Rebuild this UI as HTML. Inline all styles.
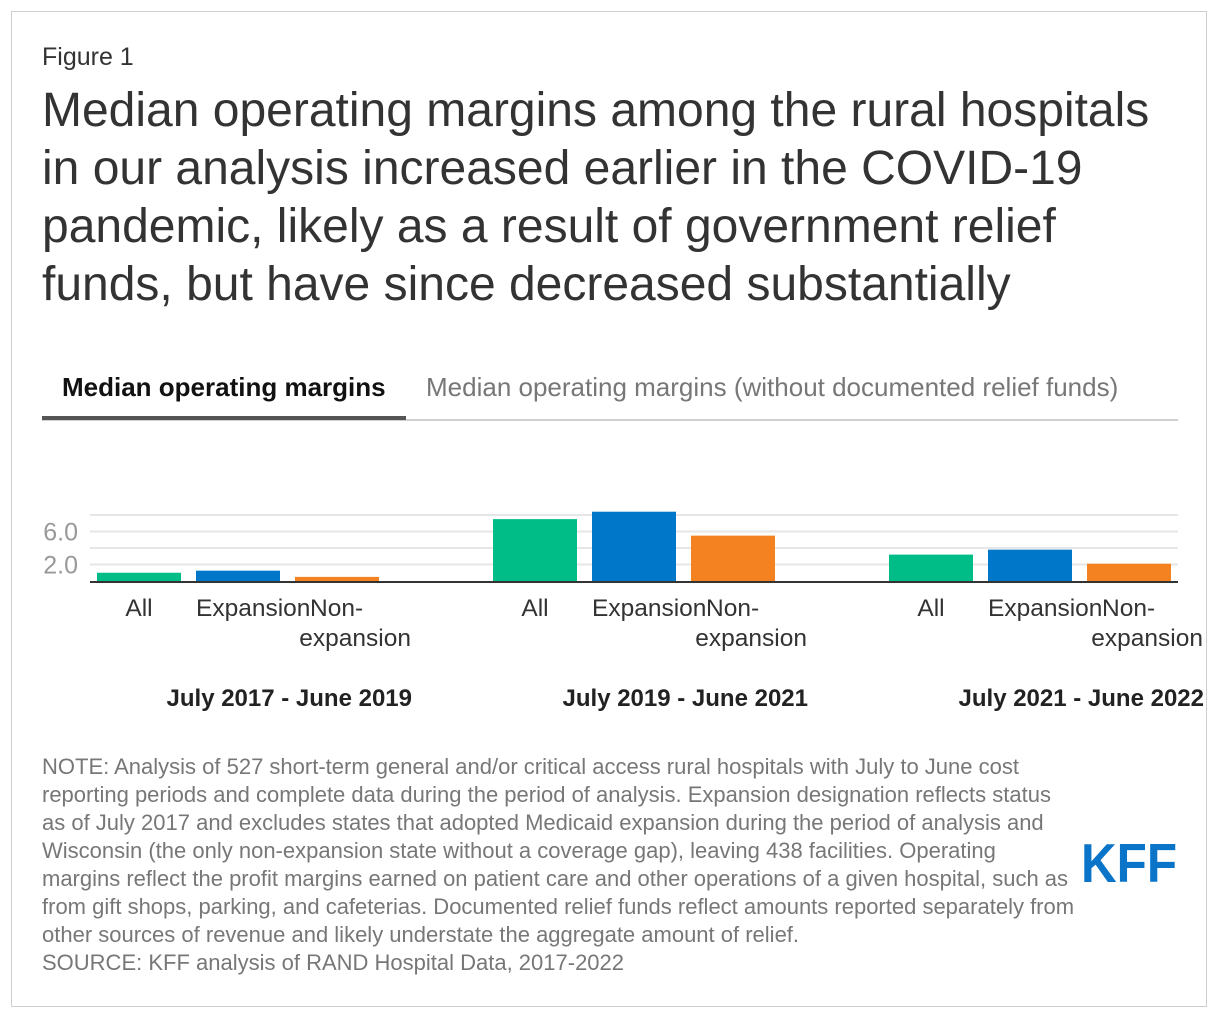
<!DOCTYPE html>
<html><head><meta charset="utf-8"><style>
html,body{margin:0;padding:0;background:#fff;}
body{width:1220px;height:1020px;position:relative;font-family:"Liberation Sans",Arial,sans-serif;overflow:hidden;}
.frame{position:absolute;left:11px;top:11px;width:1196px;height:996px;border:1px solid #cfcfcf;box-sizing:border-box;}
.fig{position:absolute;left:42px;top:43px;font-size:25px;color:#333;}
.title{position:absolute;left:42px;top:82px;width:1170px;font-size:48px;line-height:58px;color:#333;white-space:nowrap;}
.tab1{position:absolute;left:62px;top:372px;font-size:26px;font-weight:bold;color:#111;}
.tab2{position:absolute;left:426px;top:372px;font-size:26px;color:#777;}
.tabline{position:absolute;left:42px;top:419px;width:1136px;height:2px;background:#d0d0d0;}
.tabact{position:absolute;left:42px;top:416px;width:364px;height:4px;background:#555;}
.note{position:absolute;left:42px;top:753px;width:1060px;font-size:22px;line-height:28px;color:#777;white-space:nowrap;}
svg{position:absolute;left:0;top:0;}
</style></head><body>
<div class="frame"></div>
<div class="fig">Figure 1</div>
<div class="title">Median operating margins among the rural hospitals<br>in our analysis increased earlier in the COVID-19<br>pandemic, likely as a result of government relief<br>funds, but have since decreased substantially</div>
<div class="tab1">Median operating margins</div>
<div class="tab2">Median operating margins (without documented relief funds)</div>
<div class="tabline"></div>
<div class="tabact"></div>
<svg id="chart" width="1220" height="1020"></svg>
<div class="note">NOTE: Analysis of 527 short-term general and/or critical access rural hospitals with July to June cost<br>reporting periods and complete data during the period of analysis. Expansion designation reflects status<br>as of July 2017 and excludes states that adopted Medicaid expansion during the period of analysis and<br>Wisconsin (the only non-expansion state without a coverage gap), leaving 438 facilities. Operating<br>margins reflect the profit margins earned on patient care and other operations of a given hospital, such as<br>from gift shops, parking, and cafeterias. Documented relief funds reflect amounts reported separately from<br>other sources of revenue and likely understate the aggregate amount of relief.<br>SOURCE: KFF analysis of RAND Hospital Data, 2017-2022</div>
<svg width="1220" height="1020" style="pointer-events:none"><text x="1081" y="882" font-family="Liberation Sans, sans-serif" font-weight="bold" font-size="55" fill="#0a74c9" textLength="96" lengthAdjust="spacingAndGlyphs">KFF</text></svg>
<script>
const periods = ["July 2017 - June 2019","July 2019 - June 2021","July 2021 - June 2022"];
const categories = ["All","Expansion","Non-expansion"];
const allValues = [1.0, 7.5, 3.2];
const expansionValues = [1.25, 8.4, 3.8];
const nonExpansionValues = [0.5, 5.5, 2.1];
const tickValues = [2, 4, 6, 8];
const tickLabels = ["2.0", "", "6.0", ""];
const colors = ["#00bd88","#0077c8","#f58220"];

const NS = "http://www.w3.org/2000/svg";
const svg = document.getElementById("chart");
const x0 = 90, x1 = 1178, y0 = 581, pxPerUnit = 8.25;
const groupW = 396;
const catW = 99, barW = 84, groupPad = 7;
const yScale = v => y0 - v * pxPerUnit;
const xCat = (g, c) => x0 + g * groupW + groupPad + c * catW;
function mk(tag, attrs){const e=document.createElementNS(NS,tag);for(const k in attrs)e.setAttribute(k,attrs[k]);svg.appendChild(e);return e;}

tickValues.forEach((t,i)=>{
  const gl = mk("line",{x1:x0,x2:x1,y1:yScale(t),y2:yScale(t),stroke:"#e6e6e6","stroke-width":2});
  
  
  if(tickLabels[i]){
    const tl = mk("text",{x:78,y:yScale(t)+9,"text-anchor":"end","font-size":25,fill:"#999","font-family":"Liberation Sans, sans-serif"});
    tl.textContent = tickLabels[i];
    
    
  }
});

const series = [allValues, expansionValues, nonExpansionValues];
const F = "Liberation Sans, sans-serif";
periods.forEach((p,g)=>{
  series.forEach((vals,c)=>{
    const v = vals[g];
    const r = mk("rect",{x:xCat(g,c),y:yScale(v),width:barW,height:y0-yScale(v),fill:colors[c]});
    
    
  });
  const a = mk("text",{x:xCat(g,0)+barW/2,y:616,"text-anchor":"middle","font-size":24.5,fill:"#333","font-family":F});
  a.textContent = "All";
  
  
  const e = mk("text",{x:xCat(g,1),y:616,"text-anchor":"start","font-size":24.5,fill:"#333","font-family":F});
  e.textContent = "Expansion";
  
  
  const n1 = mk("text",{x:xCat(g,2)+15,y:616,"text-anchor":"start","font-size":24.5,fill:"#333","font-family":F});
  n1.textContent = "Non-";
  
  
  const n2 = mk("text",{x:xCat(g,2)+116,y:646,"text-anchor":"end","font-size":24.5,fill:"#333","font-family":F});
  n2.textContent = "expansion";
  
  
  const pl = mk("text",{x:x0+g*groupW+322,y:706,"text-anchor":"end","font-size":24,"font-weight":"bold",fill:"#222","font-family":F});
  pl.textContent = p;
  
  
});
const ax = mk("line",{x1:x0,x2:x1,y1:y0+1,y2:y0+1,stroke:"#333","stroke-width":2});


</script>
</body></html>
